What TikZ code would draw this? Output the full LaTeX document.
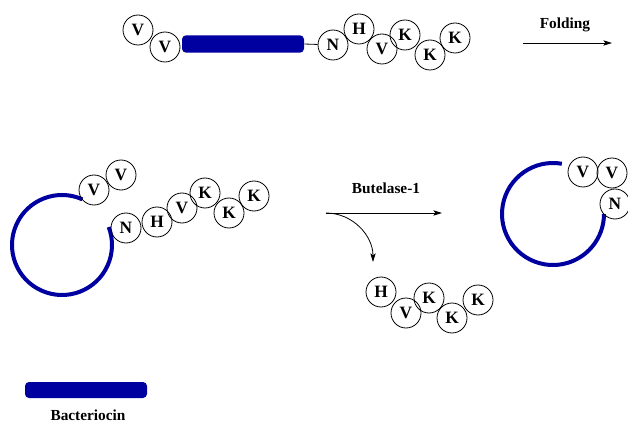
\documentclass[tikz,border=0pt]{standalone}
\usepackage{fontspec}
\setmainfont{Liberation Serif}
\usetikzlibrary{arrows.meta}
\definecolor{peptideblue}{RGB}{0,0,160}

\begin{document}
\begin{tikzpicture}[>={Stealth[length=6.5pt, width=4pt, inset=1.5pt]}, x=0.75pt, y=0.75pt]
	\tikzstyle{residue} = [draw, line width=0.6pt, circle, minimum size=22.5pt, inner sep=0pt, font=\fontsize{13}{14}\selectfont\bfseries]
	\tikzstyle{chain} = [fill=peptideblue, rounded corners=3pt, minimum width=91.5pt, minimum height=13pt, inner sep=0pt]
	\tikzstyle{label} = [font=\fontsize{11.5}{13}\selectfont\bfseries]
	\tikzstyle{ring} = [draw=peptideblue, line width=3pt]
	\useasboundingbox (0,0) rectangle (628,-424);
	% linear precursor
	\begin{scope}
	  \node[residue] (V1) at (138,-30) {V};
	  \node[residue] (V2) at (165,-47) {V};
	  \node[chain] (bar) at (243,-44) {};
	  \node[residue] (N) at (333,-45) {N};
	  \node[residue] (H) at (359,-29) {H};
	  \node[residue] (V3) at (382,-49) {V};
	  \node[residue] (K1) at (405,-35) {K};
	  \node[residue] (K2) at (430,-55) {K};
	  \node[residue] (K3) at (455,-38) {K};
	  \draw[line width=0.6pt] (bar.east) -- (N);
	\end{scope}
	% folding step
	\node[label] (fold) at (565,-25) {Folding};
	\coordinate (f0) at (523,-43);
	\coordinate (f1) at (612,-43);
	\draw[->, line width=0.6pt] (f0) -- (f1);
	% folded precursor
	\begin{scope}
	  \draw[ring] ([shift={(66:37.5pt)}]62,-245) arc[start angle=66, end angle=381, radius=37.5pt];
	  \node[residue] (V1) at (94,-190) {V};
	  \node[residue] (V2) at (121,-175) {V};
	  \node[residue] (N) at (126,-228) {N};
	  \node[residue] (H) at (157,-222) {H};
	  \node[residue] (V3) at (182,-208) {V};
	  \node[residue] (K1) at (205,-193) {K};
	  \node[residue] (K2) at (229,-213) {K};
	  \node[residue] (K3) at (254,-196) {K};
	\end{scope}
	% ligation
	\node[label] (enz) at (386,-188) {Butelase-1};
	\coordinate (b0) at (326,-213);
	\coordinate (b1) at (442,-213);
	\coordinate (b2) at (373,-262);
	\draw[->, line width=0.6pt] (b0) -- (b1);
	\draw[->, line width=0.6pt] (b0) to[out=0, in=90] (b2);
	% released tail
	\begin{scope}
	  \node[residue] (H) at (381,-292) {H};
	  \node[residue] (V3) at (406,-313) {V};
	  \node[residue] (K1) at (429,-298) {K};
	  \node[residue] (K2) at (452,-318) {K};
	  \node[residue] (K3) at (478,-300) {K};
	\end{scope}
	% cyclic product
	\begin{scope}
	  \draw[ring] ([shift={(80:38.25pt)}]553,-214) arc[start angle=80, end angle=360, radius=38.25pt];
	  \node[residue] (V1) at (583,-172) {V};
	  \node[residue] (V2) at (612,-173) {V};
	  \node[residue] (N) at (615,-204) {N};
	\end{scope}
	% legend
	\node[chain, minimum height=12pt] (key) at (86,-390) {};
	\node[label] (keytext) at (88,-415) {Bacteriocin};
\end{tikzpicture}
\end{document}
